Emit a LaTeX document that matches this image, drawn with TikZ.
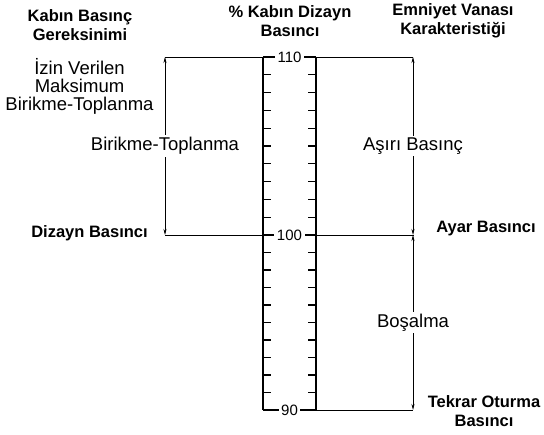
\documentclass[tikz,border=0pt]{standalone}
\usepackage{fontspec}
\setmainfont{Liberation Sans}
\usetikzlibrary{arrows.meta,positioning,calc}

\begin{document}
\begin{tikzpicture}[x=1pt,y=-1pt,
  hdr/.style={font=\fontsize{16.5}{19.5}\selectfont\bfseries, align=center, inner sep=0pt, anchor=base},
  txt/.style={font=\fontsize{18.5}{18}\selectfont, align=center, inner sep=0pt, anchor=base},
  num/.style={font=\fontsize{15}{15}\selectfont, fill=white, inner sep=2.5pt},
  scalebar/.style={line width=1.8pt},
  scaletick/.style={line width=1.1pt},
  lvl/.style={line width=0.8pt},
  span/.style={line width=0.6pt, {Stealth[length=6pt,width=3pt]}-{Stealth[length=6pt,width=3pt]}},
  spanlbl/.style={font=\fontsize{18.5}{18}\selectfont, fill=white, inner sep=2pt}]
  \useasboundingbox (0,0) rectangle (544,435);

  \coordinate (L110) at (263,57);
  \coordinate (L100) at (263,235);
  \coordinate (L90) at (263,410);
  \coordinate (R110) at (316,57);
  \coordinate (R100) at (316,235);
  \coordinate (R90) at (316,410);
  \coordinate (birTop) at (165,57);
  \coordinate (birBot) at (165,235);
  \coordinate (vanTop) at (413,57);
  \coordinate (vanMid) at (414,235);
  \coordinate (vanBot) at (413,410);

  % headers
  \node[hdr] (hdrKabin) at (80,41) {Kabın Basınç\\Gereksinimi};
  \node[hdr] (hdrYuzde) at (290,37) {\% Kabın Dizayn\\Basıncı};
  \node[hdr] (hdrVana) at (453,35) {Emniyet Vanası\\Karakteristiği};
  \node[txt] (izin) at (79.5,111) {İzin Verilen\\Maksimum\\Birikme-Toplanma};
  \node[hdr] (dizayn) at (89.5,238) {Dizayn Basıncı};
  \node[hdr] (ayar) at (486,233) {Ayar Basıncı};
  \node[hdr] (tekrar) at (484,427) {Tekrar Oturma\\Basıncı};

  % scale
  \draw[scalebar] (L110) -- (L90);
  \draw[scalebar] (R110) -- (R90);
  \foreach \k in {1,...,9} {
    \draw[scaletick] ($(L110)!\k/10!(L100)$) -- ++(8,0);
    \draw[scaletick] ($(R110)!\k/10!(R100)$) -- ++(-8,0);
    \draw[scaletick] ($(L100)!\k/10!(L90)$) -- ++(8,0);
    \draw[scaletick] ($(R100)!\k/10!(R90)$) -- ++(-8,0);
  }
  \draw[scaletick] (L110) -- (R110) node[num, midway] (n110) {110};
  \draw[scaletick] (L100) -- (R100) node[num, midway] (n100) {100};
  \draw[scaletick] (L90) -- (R90) node[num, midway] (n90) {90};

  % levels
  \draw[lvl] (birTop) -- (L110);
  \draw[lvl] (birBot) -- (L100);
  \draw[lvl] (R110) -- (vanTop);
  \draw[lvl] (R100) -- (vanMid);
  \draw[lvl] (R90) -- (vanBot);

  % spans
  \draw[span] (birTop) -- (birBot) node[spanlbl, midway] (birikme) {Birikme-Toplanma};
  \draw[span] (vanTop) -- (vanTop |- vanMid) node[spanlbl, midway] (asiri) {Aşırı Basınç};
  \draw[span] (vanTop |- vanMid) -- (vanBot) node[spanlbl, midway] (bosalma) {Boşalma};
\end{tikzpicture}
\end{document}
